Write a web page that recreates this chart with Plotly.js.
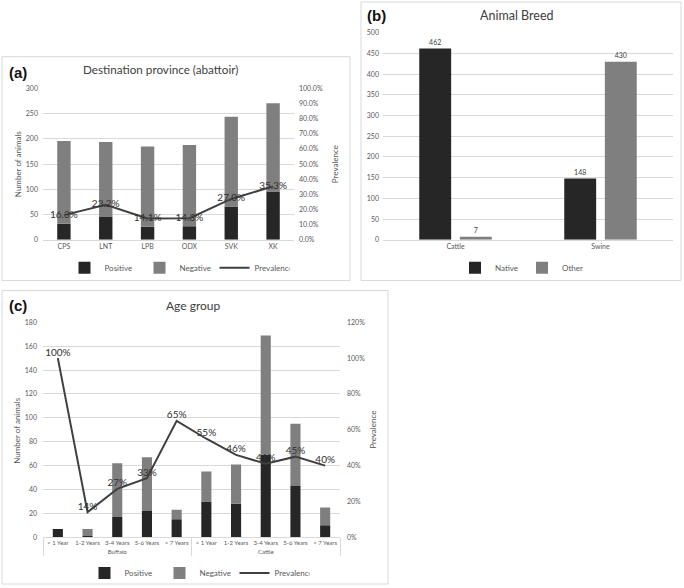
<!DOCTYPE html>
<html><head><meta charset="utf-8">
<script src="https://cdn.plot.ly/plotly-3.0.1.min.js"></script>
<style>html,body{margin:0;padding:0;background:#fff}#chart{width:684px;height:588px}</style>
</head><body><div id="chart"></div>
<script>
// ---- Data ----
const provinces = ['CPS','LNT','LPB','ODX','SVK','XK'];
const provPositive = [32,45,26,27,66,96];
const provNegative = [164,149,159,161,178,175];
const provPrevalence = [0.163,0.232,0.141,0.143,0.270,0.353];

const breedCategories = ['Cattle','Swine'];
const breedNative = [462,148];
const breedOther = [7,430];

const ageSpecies = ['Buffalo','Buffalo','Buffalo','Buffalo','Buffalo','Cattle','Cattle','Cattle','Cattle','Cattle'];
const ageGroups = ['< 1 Year','1-2 Years','3-4 Years','5-6 Years','> 7 Years','< 1 Year','1-2 Years','3-4 Years','5-6 Years','> 7 Years'];
const agePositive = [7,1,17,22,15,30,28,69,43,10];
const ageNegative = [0,6,45,45,8,25,33,100,52,15];
const agePrevalence = [1.00,0.14,0.27,0.33,0.65,0.55,0.46,0.41,0.45,0.40];

// ---- Helpers ----
const W = 684, H = 588;
const px = x => x / W;
const py = y => 1 - y / H;
const FONT = 'Lato, "Open Sans", sans-serif';
const DARK = '#262626', GREY = '#7f7f7f', LINE = '#404040', GRID = '#d9d9d9', TXT = '#595959';

const ageX = [ageSpecies, ageGroups];

const traces = [
  // (a)
  {type:'bar', x:provinces, y:provPositive, name:'Positive', marker:{color:DARK}, width:0.32, offset:-0.16,
   xaxis:'x', yaxis:'y', legend:'legend', hoverinfo:'skip'},
  {type:'bar', x:provinces, y:provNegative, base:provPositive, name:'Negative', marker:{color:GREY}, width:0.32, offset:-0.16,
   xaxis:'x', yaxis:'y', legend:'legend', hoverinfo:'skip'},
  {type:'scatter', mode:'lines+text', x:provinces, y:provPrevalence, name:'Prevalence', line:{color:LINE, width:2},
   texttemplate:'%{y:.1%}', textposition:'middle center', textfont:{family:FONT, size:10, color:'#303030'},
   xaxis:'x', yaxis:'y2', legend:'legend', hoverinfo:'skip'},
  // (b)
  {type:'bar', x:breedCategories, y:breedNative, name:'Native', marker:{color:DARK}, width:0.22, offset:-0.25,
   text:breedNative.map(String), textposition:'outside', textfont:{family:FONT, size:7, color:'#404040'}, cliponaxis:false,
   xaxis:'x3', yaxis:'y3', legend:'legend2', hoverinfo:'skip'},
  {type:'bar', x:breedCategories, y:breedOther, name:'Other', marker:{color:GREY}, width:0.22, offset:0.03,
   text:breedOther.map(String), textposition:'outside', textfont:{family:FONT, size:7, color:'#404040'}, cliponaxis:false,
   xaxis:'x3', yaxis:'y3', legend:'legend2', hoverinfo:'skip'},
  // (c)
  {type:'bar', x:ageX, y:agePositive, name:'Positive', marker:{color:DARK}, width:0.34, offset:-0.17,
   xaxis:'x4', yaxis:'y4', legend:'legend3', hoverinfo:'skip'},
  {type:'bar', x:ageX, y:ageNegative, base:agePositive, name:'Negative', marker:{color:GREY}, width:0.34, offset:-0.17,
   xaxis:'x4', yaxis:'y4', legend:'legend3', hoverinfo:'skip'},
  {type:'scatter', mode:'lines+text', x:ageX, y:agePrevalence, name:'Prevalence', line:{color:LINE, width:2},
   texttemplate:'%{y:.0%}', textposition:'top center', textfont:{family:FONT, size:10, color:'#303030'}, cliponaxis:false,
   xaxis:'x4', yaxis:'y5', legend:'legend3', hoverinfo:'skip'}
];

const tickF = {family:FONT, size:7, color:TXT};
const baseX = {showgrid:false, zeroline:false, showline:true, linecolor:GRID, linewidth:1, ticks:'', tickfont:tickF, fixedrange:true, tickangle:0};
const baseY = {showgrid:true, gridcolor:GRID, gridwidth:1, zeroline:false, showline:false, ticks:'', tickfont:tickF, fixedrange:true};

const legendBase = {orientation:'h', xanchor:'center', yanchor:'middle', font:{family:FONT, size:8, color:TXT},
  bgcolor:'rgba(0,0,0,0)', itemwidth:30, tracegroupgap:0, entrywidthmode:'pixels'};

const ann = (x,y,text,opts={}) => Object.assign({xref:'paper', yref:'paper', x:px(x), y:py(y), text, showarrow:false,
  xanchor:'center', yanchor:'middle', font:{family:FONT, size:11, color:'#404040'}}, opts);
const lab = (x,y,text) => ann(x,y,'<b>'+text+'</b>',{xanchor:'left', font:{family:'"Liberation Sans", Arial, sans-serif', size:15, color:'#111'}});

const layout = {
  width:W, height:H, margin:{l:0,r:0,t:0,b:0}, paper_bgcolor:'#fff', plot_bgcolor:'rgba(0,0,0,0)',
  barmode:'overlay', font:{family:FONT, color:TXT},
  xaxis:Object.assign({}, baseX, {domain:[px(43), px(294)], anchor:'y'}),
  yaxis:Object.assign({}, baseY, {domain:[py(241), py(89)], range:[0,300], dtick:50, anchor:'x', ticklabelstandoff:4}),
  yaxis2:Object.assign({}, baseY, {overlaying:'y', side:'right', anchor:'x', range:[0,1], dtick:0.1, tickformat:'.1%', showgrid:false, ticklabelstandoff:4}),
  xaxis3:Object.assign({}, baseX, {domain:[px(383), px(673)], anchor:'y3'}),
  yaxis3:Object.assign({}, baseY, {domain:[py(241), py(33)], range:[0,500], dtick:50, anchor:'x3', ticklabelstandoff:3}),
  xaxis4:Object.assign({}, baseX, {domain:[px(43), px(340)], anchor:'y4', type:'multicategory', showdividers:true, dividercolor:GRID, dividerwidth:1, tickangle:0, tickfont:{family:FONT, size:6, color:TXT}}),
  yaxis4:Object.assign({}, baseY, {domain:[py(540), py(324)], range:[0,180], dtick:20, anchor:'x4', ticklabelstandoff:5}),
  yaxis5:Object.assign({}, baseY, {overlaying:'y4', side:'right', anchor:'x4', range:[0,1.2], dtick:0.2, tickformat:'.0%', showgrid:false, ticklabelstandoff:6}),
  legend:Object.assign({}, legendBase, {x:px(177), y:py(269), entrywidth:30}),
  legend2:Object.assign({}, legendBase, {x:px(522), y:py(269), entrywidth:22, itemwidth:30}),
  legend3:Object.assign({}, legendBase, {x:px(197), y:py(576), entrywidth:30}),
  shapes:[
    {type:'rect', xref:'paper', yref:'paper', x0:px(2), x1:px(350), y0:py(57), y1:py(282), line:{color:GRID, width:1}},
    {type:'rect', xref:'paper', yref:'paper', x0:px(361), x1:px(681), y0:py(2), y1:py(282), line:{color:GRID, width:1}},
    {type:'rect', xref:'paper', yref:'paper', x0:px(2), x1:px(388), y0:py(292), y1:py(587), line:{color:GRID, width:1}}
  ],
  annotations:[
    lab(7,73,'(a)'), lab(365,16,'(b)'), lab(7,307,'(c)'),
    ann(160,69,'Destination province (abattoir)', {font:{family:FONT, size:11.7, color:'#404040'}}),
    ann(517,16,'Animal Breed', {font:{family:FONT, size:12.5, color:'#404040'}}),
    ann(193,307,'Age group', {font:{family:FONT, size:12, color:'#404040'}}),
    ann(18,165,'Number of animals', {textangle:-90, font:{family:FONT, size:8, color:TXT}}),
    ann(335,165,'Prevalence', {textangle:-90, font:{family:FONT, size:8, color:TXT}}),
    ann(17,433,'Number of animals', {textangle:-90, font:{family:FONT, size:8, color:TXT}}),
    ann(373,432,'Prevalence', {textangle:-90, font:{family:FONT, size:8, color:TXT}})
  ]
};

Plotly.newPlot('chart', traces, layout, {displayModeBar:false, staticPlot:true});
</script></body></html>
